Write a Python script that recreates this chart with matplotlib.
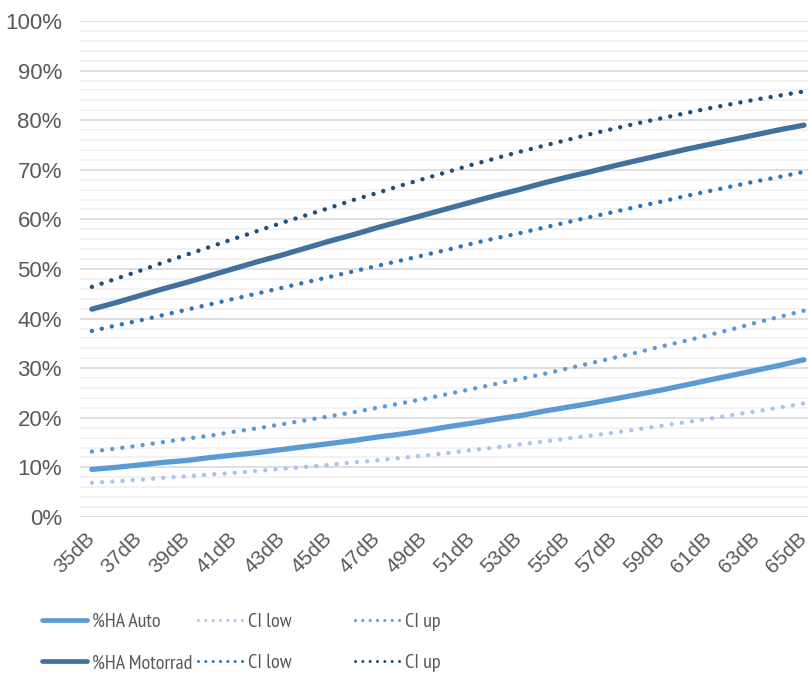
import matplotlib
matplotlib.use('Agg')
import matplotlib.pyplot as plt
from matplotlib.lines import Line2D
from matplotlib.ticker import MultipleLocator, FuncFormatter

plt.rcParams['font.family'] = ['Liberation Sans', 'DejaVu Sans']

# Schallpegel 35..65 dB
pegel = list(range(35, 66))
labels = ['%ddB' % p if (p - 35) % 2 == 0 else '' for p in pegel]

auto = [0.096, 0.100, 0.105, 0.110, 0.114, 0.120, 0.125, 0.130, 0.136, 0.142,
        0.148, 0.154, 0.161, 0.167, 0.174, 0.182, 0.189, 0.197, 0.204, 0.213,
        0.221, 0.229, 0.238, 0.247, 0.256, 0.266, 0.276, 0.286, 0.296, 0.306, 0.317]
auto_low = [0.069, 0.072, 0.075, 0.079, 0.082, 0.086, 0.089, 0.093, 0.097, 0.101,
            0.105, 0.110, 0.114, 0.119, 0.124, 0.129, 0.135, 0.140, 0.146, 0.152,
            0.158, 0.164, 0.170, 0.177, 0.184, 0.191, 0.198, 0.206, 0.213, 0.221, 0.229]
auto_up = [0.132, 0.138, 0.144, 0.151, 0.158, 0.164, 0.172, 0.179, 0.187, 0.195,
           0.203, 0.211, 0.220, 0.229, 0.238, 0.248, 0.258, 0.268, 0.278, 0.288,
           0.299, 0.310, 0.321, 0.332, 0.344, 0.355, 0.367, 0.379, 0.392, 0.404, 0.416]
moto = [0.419, 0.432, 0.446, 0.460, 0.473, 0.487, 0.501, 0.515, 0.528, 0.542,
        0.556, 0.569, 0.583, 0.596, 0.609, 0.622, 0.635, 0.648, 0.660, 0.673,
        0.685, 0.696, 0.708, 0.719, 0.730, 0.741, 0.751, 0.761, 0.771, 0.781, 0.790]
moto_low = [0.375, 0.386, 0.396, 0.407, 0.418, 0.429, 0.440, 0.451, 0.462, 0.473,
            0.484, 0.495, 0.506, 0.517, 0.528, 0.539, 0.551, 0.562, 0.572, 0.583,
            0.594, 0.605, 0.615, 0.626, 0.636, 0.647, 0.657, 0.667, 0.677, 0.686, 0.696]
moto_up = [0.464, 0.480, 0.496, 0.513, 0.529, 0.545, 0.561, 0.577, 0.593, 0.608,
           0.623, 0.639, 0.653, 0.668, 0.682, 0.696, 0.710, 0.723, 0.736, 0.748,
           0.760, 0.772, 0.783, 0.794, 0.804, 0.814, 0.824, 0.833, 0.842, 0.850, 0.858]

c_auto = '#5B9BD5'
c_auto_low = '#A9C5E8'
c_moto = '#41719C'
c_moto_low = '#2E75B6'
c_moto_up = '#1F4E79'

fig = plt.figure(figsize=(8.08, 6.75), dpi=100)
ax = fig.add_axes([80 / 808, 158 / 675, 728 / 808, 496 / 675])

x = list(range(len(pegel)))
solid = dict(lw=3.8, solid_capstyle='round')
dotted = dict(lw=3.2, linestyle=(0, (0.001, 2.3)), dash_capstyle='round')

ax.plot(x, auto_low, color=c_auto_low, **dotted)
ax.plot(x, auto_up, color=c_auto, **dotted)
ax.plot(x, moto_low, color=c_moto_low, **dotted)
ax.plot(x, moto_up, color=c_moto_up, **dotted)
ax.plot(x, auto, color=c_auto, **solid)
ax.plot(x, moto, color=c_moto, **solid)

ax.set_xlim(-0.5, 30.17)
ax.set_ylim(0, 1)
ax.yaxis.set_major_locator(MultipleLocator(0.1))
ax.yaxis.set_minor_locator(MultipleLocator(0.02))
ax.yaxis.set_major_formatter(FuncFormatter(lambda v, p: '%d%%' % round(v * 100)))
ax.grid(which='major', axis='y', color='#D9D9D9', lw=1.2)
ax.grid(which='minor', axis='y', color='#F0F0F0', lw=1.2)
ax.set_axisbelow(True)
for s in ax.spines.values():
    s.set_visible(False)

ax.set_xticks(x)
ax.set_xticklabels(labels, rotation=45, ha='right', va='center',
                   rotation_mode='anchor', fontsize=15, color='#595959')
ax.tick_params(axis='both', which='both', length=0)
ax.tick_params(axis='x', pad=13)
ax.tick_params(axis='y', pad=13, labelsize=16, labelcolor='#595959')

# Legende: drei Spalten mit festen Abstaenden, schmale Schrift
leg_font = dict(family=['PT Sans Narrow', 'Liberation Sans'], size=14.5)
h_dot = (0, (0.001, 2.4))
spalten = [
    ([Line2D([], [], color=c_auto, lw=3.4, solid_capstyle='round'),
      Line2D([], [], color=c_moto, lw=3.4, solid_capstyle='round')],
     ['%HA Auto', '%HA Motorrad'], 42),
    ([Line2D([], [], color=c_auto_low, lw=2.2, linestyle=h_dot, dash_capstyle='round'),
      Line2D([], [], color=c_moto_low, lw=2.2, linestyle=h_dot, dash_capstyle='round')],
     ['CI low', 'CI low'], 198),
    ([Line2D([], [], color=c_auto, lw=2.2, linestyle=h_dot, dash_capstyle='round'),
      Line2D([], [], color=c_moto_up, lw=2.2, linestyle=h_dot, dash_capstyle='round')],
     ['CI up', 'CI up'], 355),
]
for handles, texts, xpix in spalten:
    leg = fig.legend(handles, texts, loc='upper left',
                     bbox_to_anchor=(xpix / 808, 1 - 613 / 675),
                     frameon=False, prop=leg_font, handlelength=2.25,
                     handletextpad=0.22, labelspacing=1.15, borderpad=0,
                     borderaxespad=0)
    for t in leg.get_texts():
        t.set_color('#595959')

fig.savefig('out.png', dpi=100)
